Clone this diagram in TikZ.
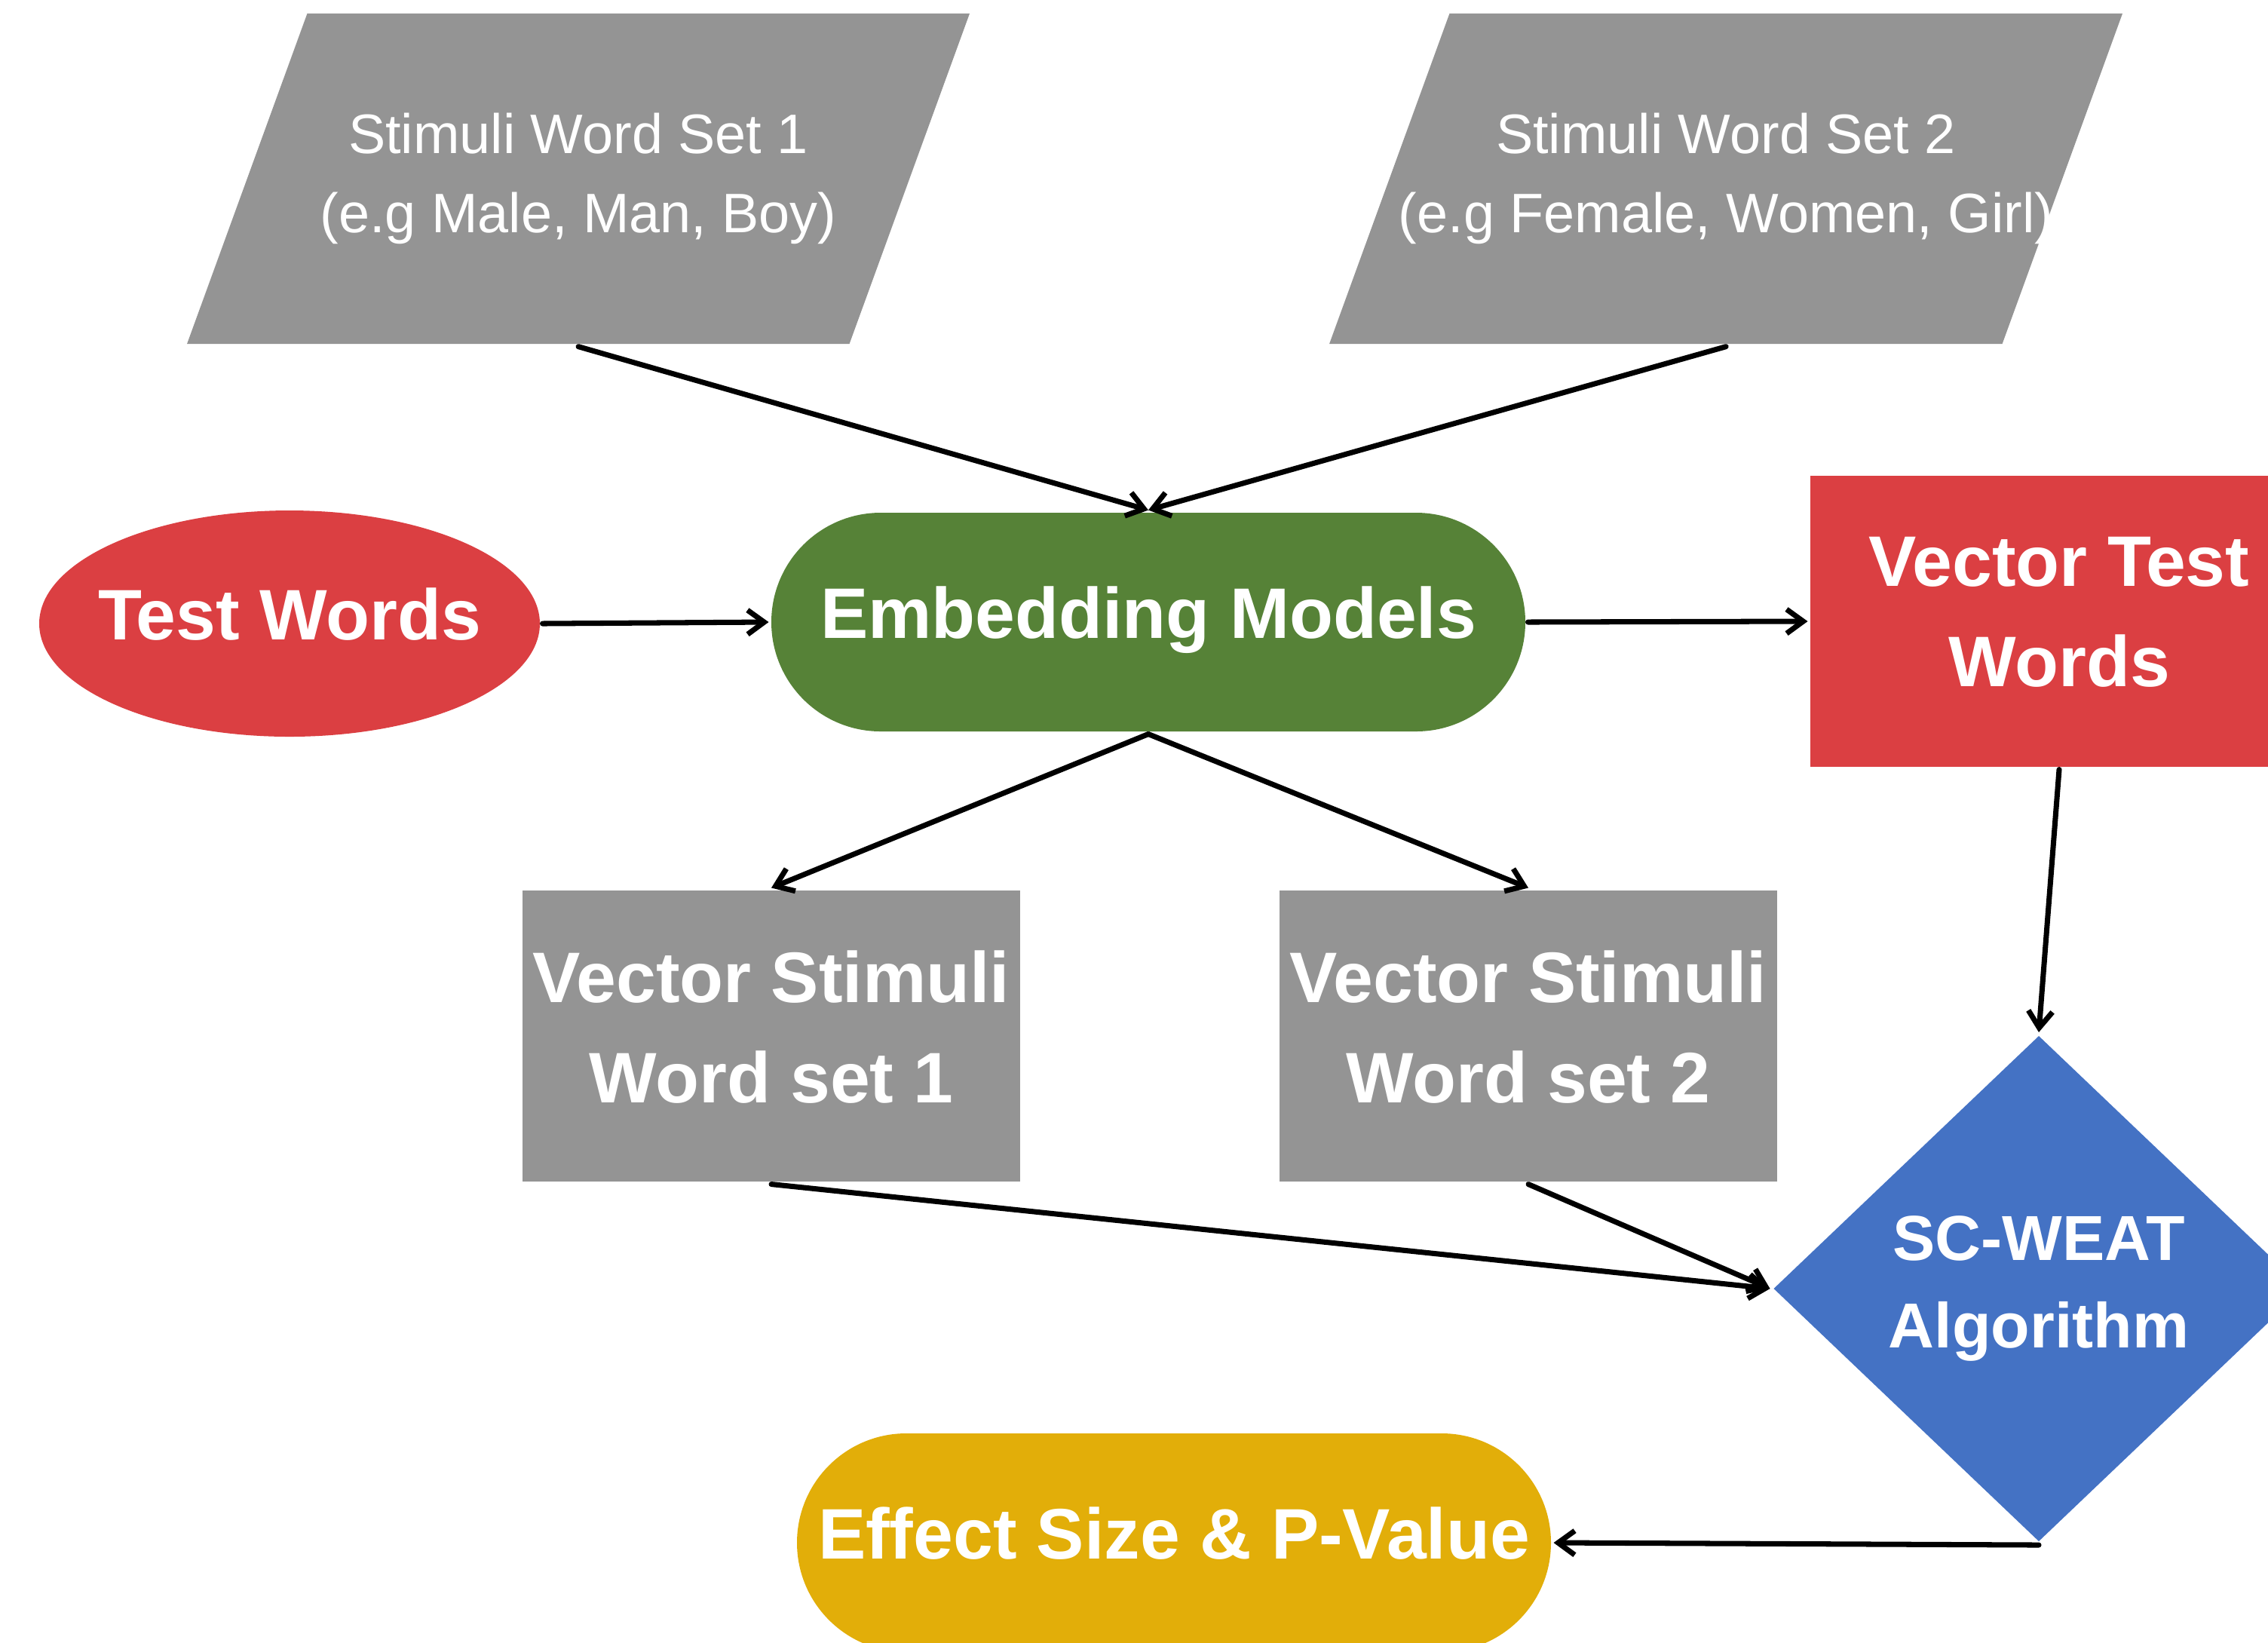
\documentclass[tikz,border=0pt]{standalone}
\usepackage{fontspec}
\setmainfont{Liberation Sans}
\usetikzlibrary{arrows.meta,shapes.geometric,shapes.misc}

\definecolor{boxgray}{HTML}{949494}
\definecolor{boxred}{HTML}{DB3F42}
\definecolor{boxgreen}{HTML}{568237}
\definecolor{boxblue}{HTML}{4472C4}
\definecolor{boxgold}{HTML}{E2AE09}

\begin{document}
\begin{tikzpicture}[->,>={Straight Barb[length=2.2mm,width=3.2mm]},line width=2pt,line cap=round]

            \tikzstyle{every node}=[text=white,align=center,inner sep=0pt]
            \tikzstyle{stimuli}=[trapezium,trapezium left angle=70,trapezium right angle=110,trapezium stretches body,fill=boxgray,inner xsep=-1.2cm,inner ysep=1.32cm,minimum width=10.38cm,minimum height=4.36cm,font=\fontsize{21}{30}\selectfont]
            \tikzstyle{bigtext}=[font=\fontsize{27}{38}\selectfont\bfseries,text depth=0.25cm]
            \tikzstyle{vectorbox}=[rectangle,bigtext,minimum width=6.6cm,minimum height=3.86cm]
            \tikzstyle{pill}=[rounded rectangle,bigtext,minimum width=10cm,minimum height=2.9cm]

            \clip[-] (0,0) rectangle (30.08,-21.78);

            \node[stimuli]                  (set1)   at (7.67,-2.37)   {Stimuli Word Set 1\\(e.g Male, Man, Boy)};
            \node[stimuli,minimum width=10.52cm] (set2) at (22.89,-2.37) {Stimuli Word Set 2\\(e.g Female, Women, Girl)};
            \node[ellipse,bigtext,fill=boxred,inner xsep=-0.4cm,minimum width=6.64cm,minimum height=3cm] (test) at (3.84,-8.27) {Test Words};
            \node[pill,fill=boxgreen]       (embed)  at (15.23,-8.25)  {Embedding Models};
            \node[vectorbox,fill=boxred]    (vtest)  at (27.31,-8.24)  {Vector Test\\Words};
            \node[vectorbox,fill=boxgray]   (vset1)  at (10.23,-13.74) {Vector Stimuli\\Word set 1};
            \node[vectorbox,fill=boxgray]   (vset2)  at (20.27,-13.74) {Vector Stimuli\\Word set 2};
            \node[diamond,fill=boxblue,minimum width=7.06cm,minimum height=6.73cm,font=\fontsize{24}{33}\selectfont\bfseries] (weat) at (27.04,-17.09) {SC-WEAT\\Algorithm};
            \node[pill,fill=boxgold]        (effect) at (15.57,-20.46) {Effect Size \& P-Value};

            \draw (set1.south) -- (embed.north);
            \draw (set2.south) -- (embed.north);
            \draw (test.east)  -- (embed.west);
            \draw (embed.east) -- (vtest.west);
            \draw (embed.south) -- (vset1.north);
            \draw (embed.south) -- (vset2.north);
            \draw (vtest.south) -- (weat.north);
            \draw (vset1.south) -- (weat.west);
            \draw (vset2.south) -- (weat.west);
            \draw (weat.south) -- (effect.east);
        \end{tikzpicture}
\end{document}
